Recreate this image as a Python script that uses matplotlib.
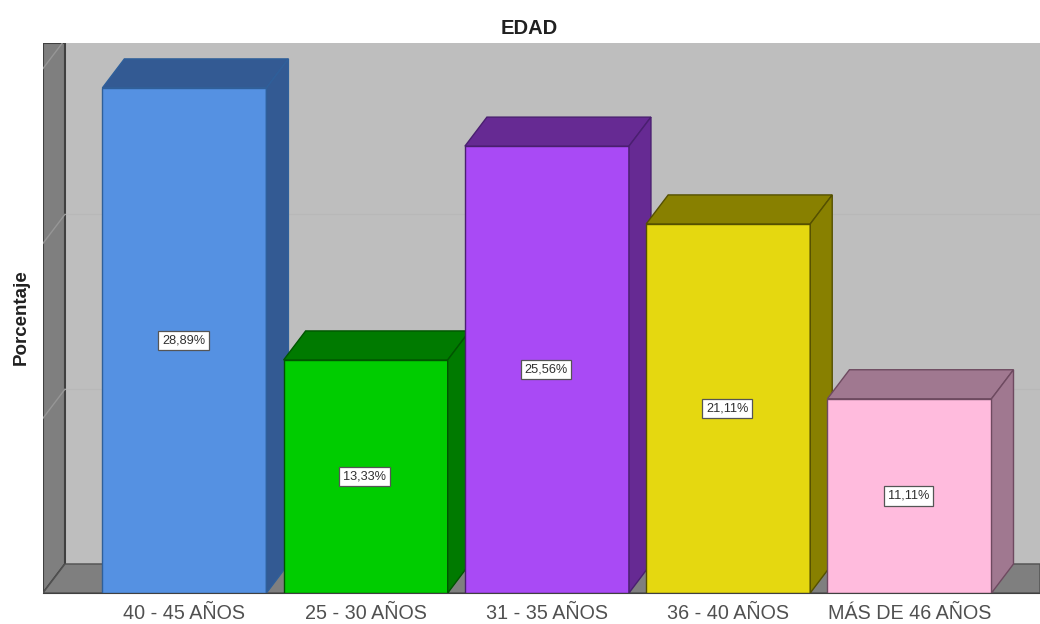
#!/usr/bin/python
""" Bar chart of age groups with a pseudo 3D look """

import matplotlib
matplotlib.use("Agg")
import matplotlib.pyplot as plt
from matplotlib.patches import Polygon

plt.rcParams['font.family'] = ['Liberation Sans', 'DejaVu Sans']

categories = ["40 - 45 AÑOS", "25 - 30 AÑOS", "31 - 35 AÑOS", "36 - 40 AÑOS", "MÁS DE 46 AÑOS"]
values = [28.89, 13.33, 25.56, 21.11, 11.11]
labels = ["28,89%", "13,33%", "25,56%", "21,11%", "11,11%"]
face_colors = ["#5591E2", "#00CC00", "#A94AF5", "#E5D810", "#FFBBDD"]
side_colors = ["#335A93", "#007A00", "#662A93", "#888000", "#A07890"]
edge_colors = ["#2F5F9A", "#005500", "#4A1F70", "#555000", "#6E4A60"]
grid_values = [10, 20, 30]

bar_width = 0.905
depth_x = 0.1213
depth_y = 1.66
xmin, xmax = -0.78, 4.72
ymin, ymax = 0.0, 31.46

fig = plt.figure(figsize=(10.4, 6.24), dpi=100)
ax = fig.add_axes([43 / 1040, 31 / 624, 997 / 1040, 550 / 624])
ax.set_xlim(xmin, xmax)
ax.set_ylim(ymin, ymax)
ax.set_facecolor("#BEBEBE")

# walls of the box
wall_x = xmin + depth_x
ax.add_patch(Polygon([(xmin, ymin), (wall_x, depth_y), (wall_x, ymax), (xmin, ymax)],
                     facecolor="#7F7F7F", edgecolor="#404040", lw=1.5, zorder=1))
ax.add_patch(Polygon([(xmin, ymin), (wall_x, depth_y), (xmax, depth_y), (xmax, ymin)],
                     facecolor="#7F7F7F", edgecolor="#505050", lw=1.0, zorder=1))

for g in grid_values:
    ax.plot([wall_x, xmax], [g + depth_y, g + depth_y], color="#B8B8B8", lw=0.8, zorder=1.5)
    ax.plot([xmin, wall_x], [g, g + depth_y], color="#969696", lw=1.0, zorder=1.5)

# bars are drawn left to right so each one hides the side of the previous
for i in range(len(values)):
    z = 2 + i
    left = i - bar_width / 2
    right = i + bar_width / 2
    v = values[i]
    ax.bar(i, v, width=bar_width, color=face_colors[i], edgecolor=edge_colors[i], lw=1.0, zorder=z)
    ax.add_patch(Polygon([(left, v), (left + depth_x, v + depth_y), (right + depth_x, v + depth_y), (right, v)],
                         facecolor=side_colors[i], edgecolor=edge_colors[i], lw=1.0, zorder=z))
    ax.add_patch(Polygon([(right, 0), (right + depth_x, depth_y), (right + depth_x, v + depth_y), (right, v)],
                         facecolor=side_colors[i], edgecolor=edge_colors[i], lw=1.0, zorder=z))
    ax.text(i - 0.005, v / 2, labels[i], ha="center", va="center", fontsize=9.2, color="#303030", zorder=20,
            bbox=dict(boxstyle="square,pad=0.3", facecolor="white", edgecolor="#555555", lw=0.9))

ax.set_xticks(range(len(categories)))
ax.set_xticklabels(categories, fontsize=14.2, color="#505050")
ax.set_yticks([])
ax.tick_params(axis="x", length=0, pad=8)

for s in ["top", "left", "right"]:
    ax.spines[s].set_visible(False)
ax.spines["bottom"].set_color("#404040")
ax.spines["bottom"].set_zorder(30)

fig.text(529 / 1040, 1 - 28 / 624, "EDAD", ha="center", va="center", fontsize=14.5, color="#202020",
         fontweight="bold")
fig.text(21 / 1040, 1 - 317 / 624, "Porcentaje", ha="center", va="center", rotation=90, fontsize=13.5,
         color="#202020", fontweight="bold")

fig.savefig("out.png", dpi=100)
